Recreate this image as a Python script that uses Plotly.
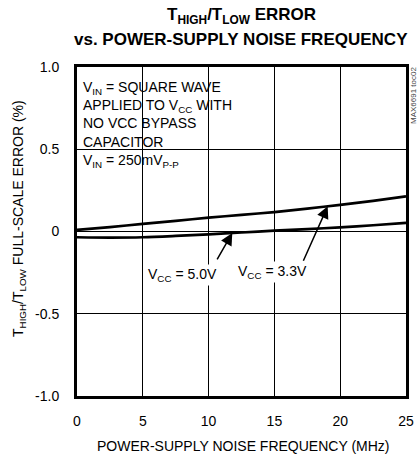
import numpy as np
import plotly.graph_objects as go

# ---- data ----
freq_mhz = [0, 2.5, 5, 7.5, 10, 12.5, 15, 17.5, 20, 22.5, 25]
err_vcc33 = [0.010, 0.027, 0.046, 0.065, 0.084, 0.101, 0.118, 0.139, 0.162, 0.186, 0.213]
err_vcc50 = [-0.035, -0.037, -0.035, -0.027, -0.017, -0.006, 0.005, 0.015, 0.025, 0.038, 0.053]
x_ticks = [0, 5, 10, 15, 20, 25]
y_ticks = [1.0, 0.5, 0.0, -0.5, -1.0]
y_ticktext = ["1.0", "0.5", "0", "-0.5", "-1.0"]

FONT = "Liberation Sans, Arial, sans-serif"
FS = 14

fig = go.Figure()
for ys in (err_vcc33, err_vcc50):
    fig.add_trace(go.Scatter(x=freq_mhz, y=ys, mode="lines",
                             line=dict(color="black", width=2.7, shape="spline", smoothing=0.8),
                             showlegend=False, hoverinfo="skip"))

W, H = 418, 458
ML, MR, MT, MB = 77, 12, 67, 62
PW, PH = W - ML - MR, H - MT - MB

def px_x(p):
    return (p - ML) / PW

def px_y(p):
    return (H - MB - p) / PH

# white background behind the condition text (covers grid only)
fig.add_shape(type="rect", xref="paper", yref="paper",
              x0=0, x1=px_x(237), y0=px_y(182), y1=1,
              fillcolor="white", line=dict(width=0), layer="between")

ann = []
# title
ann.append(dict(text="<b>T<sub>HIGH</sub>/T<sub>LOW</sub> ERROR</b>", x=px_x(241), y=px_y(16),
                xref="paper", yref="paper", showarrow=False, xanchor="center", yanchor="middle",
                font=dict(family=FONT, size=17, color="black")))
ann.append(dict(text="<b>vs. POWER-SUPPLY NOISE FREQUENCY</b>", x=px_x(241), y=px_y(40),
                xref="paper", yref="paper", showarrow=False, xanchor="center", yanchor="middle",
                font=dict(family=FONT, size=17, color="black")))
# axis titles
ann.append(dict(text="POWER-SUPPLY NOISE FREQUENCY (MHz)", x=px_x(242.5), y=px_y(446),
                xref="paper", yref="paper", showarrow=False, xanchor="center", yanchor="middle",
                font=dict(family=FONT, size=FS, color="black")))
ann.append(dict(text="T<sub>HIGH</sub>/T<sub>LOW</sub> FULL-SCALE ERROR (%)", x=px_x(19), y=px_y(219),
                xref="paper", yref="paper", showarrow=False, xanchor="center", yanchor="middle",
                textangle=-90, font=dict(family=FONT, size=FS, color="black")))
# condition text
ann.append(dict(text="V<sub>IN</sub> = SQUARE WAVE<br>APPLIED TO V<sub>CC</sub> WITH<br>NO VCC BYPASS<br>"
                     "CAPACITOR<br>V<sub>IN</sub> = 250mV<sub>P-P</sub>",
                x=px_x(81), y=px_y(124), xref="paper", yref="paper", showarrow=False,
                xanchor="left", yanchor="middle", align="left",
                font=dict(family=FONT, size=FS, color="black")))
# part note
ann.append(dict(text="MAX6691 toc02", x=px_x(413), y=px_y(96), xref="paper", yref="paper",
                showarrow=False, textangle=-90, xanchor="center", yanchor="middle",
                font=dict(family=FONT, size=8, color="#444")))
# arrows
tip50 = 11.8
tip33 = 19.05
ann.append(dict(x=tip50, y=float(np.interp(tip50, freq_mhz, err_vcc50)), xref="x", yref="y",
                text="", showarrow=True, arrowhead=2, arrowsize=1.6, arrowwidth=1.5,
                arrowcolor="black", ax=-16, ay=28))
ann.append(dict(x=tip33, y=float(np.interp(tip33, freq_mhz, err_vcc33)), xref="x", yref="y",
                text="", showarrow=True, arrowhead=2, arrowsize=1.6, arrowwidth=1.5,
                arrowcolor="black", ax=-25, ay=56))
# curve labels
ann.append(dict(text="V<sub>CC</sub> = 5.0V", x=px_x(182), y=px_y(275), xref="paper", yref="paper",
                showarrow=False, xanchor="center", yanchor="middle", bgcolor="white", borderpad=1,
                font=dict(family=FONT, size=FS, color="black")))
ann.append(dict(text="V<sub>CC</sub> = 3.3V", x=px_x(272.5), y=px_y(272), xref="paper", yref="paper",
                showarrow=False, xanchor="center", yanchor="middle", bgcolor="white", borderpad=1,
                font=dict(family=FONT, size=FS, color="black")))

fig.update_layout(
    width=W, height=H,
    margin=dict(l=ML, r=MR, t=MT, b=MB, autoexpand=False),
    paper_bgcolor="white", plot_bgcolor="white",
    font=dict(family=FONT, size=FS, color="black"),
    annotations=ann,
    showlegend=False,
)
fig.update_xaxes(range=[0, 25], tickvals=x_ticks, ticks="", ticklabelstandoff=10, automargin=False,
                 showgrid=True, gridcolor="black", gridwidth=1, zeroline=False,
                 showline=True, linecolor="black", linewidth=3, mirror=True,
                 tickfont=dict(family=FONT, size=FS, color="black"), fixedrange=True)
fig.update_yaxes(range=[-1, 1], tickvals=y_ticks, ticktext=y_ticktext, ticks="", ticklabelstandoff=12,
                 automargin=False,
                 showgrid=True, gridcolor="black", gridwidth=1,
                 zeroline=True, zerolinecolor="black", zerolinewidth=1,
                 showline=True, linecolor="black", linewidth=3, mirror=True,
                 tickfont=dict(family=FONT, size=FS, color="black"), fixedrange=True)

fig.write_html("out.html", config={"displayModeBar": False},
               post_script="document.body.style.margin='0px';document.body.style.padding='0px';")
